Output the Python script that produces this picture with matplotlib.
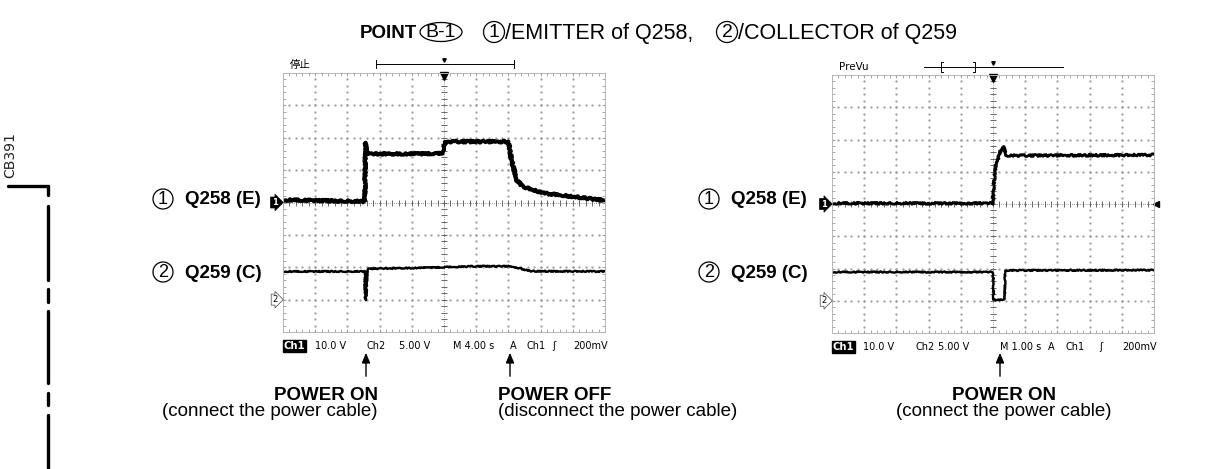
import matplotlib.pyplot as plt
from matplotlib.patches import Circle, Ellipse
import numpy as np

# Trace breakpoints in screen divisions (x: 0..10 div, y: -4..4 div)
# Left screen: M 4.00 s, power on then power off
L_CH1_T = [0, 2.54, 2.56, 2.60, 2.66, 4.95, 5.00, 5.05, 5.20, 7.00, 7.10, 7.26, 7.45, 8.07, 9.13, 10.0]
L_CH1_V = [0.08, 0.03, 1.85, 1.52, 1.50, 1.51, 1.75, 1.86, 1.88, 1.88, 1.31, 0.69, 0.49, 0.29, 0.17, 0.06]
L_CH2_T = [0, 2.54, 2.55, 2.58, 2.62, 5.00, 6.00, 7.00, 7.30, 7.70, 10.0]
L_CH2_V = [-2.13, -2.13, -3.0, -3.0, -2.05, -2.00, -1.97, -1.97, -2.02, -2.12, -2.13]

# Right screen: M 1.00 s, power on
R_CH1_T = [0, 5.00, 5.02, 5.06, 5.17, 5.27, 5.32, 5.40, 5.50, 10.0]
R_CH1_V = [0.02, 0.02, 0.60, 1.05, 1.46, 1.75, 1.80, 1.50, 1.50, 1.52]
R_CH2_T = [0, 5.00, 5.02, 5.36, 5.38, 10.0]
R_CH2_V = [-2.11, -2.11, -2.97, -2.97, -2.06, -2.05]

CH1_GND = 0
CH2_GND = -3

L_STATUS = [(1.0, "10.0 V"), (2.6, "Ch2"), (3.6, "5.00 V"), (5.28, "M 4.00 s"),
            (7.05, "A"), (7.55, "Ch1"), (8.35, "ʃ"), (9.0, "200mV")]
R_STATUS = [(0.96, "10.0 V"), (2.58, "Ch2"), (3.3, "5.00 V"), (5.22, "M 1.00 s"),
            (6.7, "A"), (7.24, "Ch1"), (8.3, "ʃ"), (9.0, "200mV")]

W, H = 1212, 469
SANS = "Liberation Sans"

fig = plt.figure(figsize=(W / 100, H / 100), dpi=100)
page = fig.add_axes([0, 0, 1, 1])
page.set_xlim(0, W)
page.set_ylim(H, 0)
page.axis("off")


def px_axes(x0, y0, x1, y1):
    return fig.add_axes([x0 / W, 1 - y1 / H, (x1 - x0) / W, (y1 - y0) / H])


def circled(x, y, s, r=10, size=13):
    page.add_patch(Circle((x, y), r, fill=False, ec="black", lw=0.9))
    page.text(x, y + 0.5, s, ha="center", va="center", fontsize=size, family=SANS)


def scope(ax, ch1, ch2, status, top_label, bar, inner=None, trig_right=False):
    ax.set_xlim(0, 10)
    ax.set_ylim(-4, 4)
    ax.set_xticks(range(11))
    ax.set_yticks(range(-4, 5))
    ax.set_xticks(np.arange(0, 10.01, 0.2), minor=True)
    ax.set_yticks(np.arange(-4, 4.01, 0.2), minor=True)
    ax.tick_params(which="both", direction="in", top=True, right=True, length=2.5,
                   width=0.6, color="#999999", labelbottom=False, labelleft=False)
    for sp in ax.spines.values():
        sp.set_color("#b5b5b5")
        sp.set_linewidth(0.7)
    ax.set_facecolor("none")

    # dotted graticule
    ys = np.arange(-4, 4.01, 0.2)
    xs = np.arange(0, 10.01, 0.2)
    for i in range(1, 10):
        if i != 5:
            ax.plot([i] * len(ys), ys, ls="none", marker=".", ms=1.2, color="#999999")
    for j in range(-3, 4):
        if j != 0:
            ax.plot(xs, [j] * len(xs), ls="none", marker=".", ms=1.2, color="#999999")
    # centre axes with fine ticks
    ax.plot([5, 5], [-4, 4], color="#777777", lw=0.6, ls=(0, (1, 1.5)))
    ax.plot([5] * len(ys), ys, ls="none", marker="_", ms=4, mew=0.7, color="#666666")
    ax.plot([0, 10], [0, 0], color="#777777", lw=0.6, ls=(0, (1, 1.5)))
    ax.plot(xs, [0] * len(xs), ls="none", marker="|", ms=4, mew=0.7, color="#666666")

    tr1, = ax.plot(ch1[0], ch1[1], color="black", lw=ch1[2], solid_capstyle="butt")
    tr1.set_sketch_params(scale=1.0, length=1.5, randomness=4)
    tr2, = ax.plot(ch2[0], ch2[1], color="black", lw=1.7, solid_capstyle="butt")
    tr2.set_sketch_params(scale=0.6, length=1.5, randomness=4)

    # trigger position marker
    ax.plot([5], [3.9], marker="v", ms=6, color="black", clip_on=False)

    # channel ground markers
    ax.annotate("1", xy=(0, CH1_GND), xytext=(-4, 0), textcoords="offset points",
                ha="right", va="center", color="white", fontsize=6, fontweight="bold",
                bbox=dict(boxstyle="rarrow,pad=0.12", fc="black", ec="black", lw=0.5),
                annotation_clip=False)
    ax.annotate("2", xy=(0, CH2_GND), xytext=(-4, 0), textcoords="offset points",
                ha="right", va="center", color="black", fontsize=6,
                bbox=dict(boxstyle="rarrow,pad=0.12", fc="white", ec="#444444", lw=0.5),
                annotation_clip=False)
    if trig_right:
        ax.plot([10.05], [CH1_GND], marker="<", ms=4, color="black", clip_on=False)

    # status line
    ax.text(0.02, -4.42, "Ch1", ha="left", va="center", fontsize=7.2, color="white",
            fontweight="bold", family="DejaVu Sans",
            bbox=dict(boxstyle="square,pad=0.1", fc="black", ec="black"), clip_on=False)
    for x, s in status:
        ax.text(x, -4.42, s, ha="left", va="center", fontsize=7, family="DejaVu Sans",
                clip_on=False)

    # record-length bar above the screen
    ax.text(0.22, 4.25, top_label[0], ha="left", va="center", fontsize=7.5,
            family=top_label[1], clip_on=False)
    x0, x1, yb = bar
    ax.plot([x0, x1], [yb, yb], color="black", lw=0.7, clip_on=False)
    if inner is None:
        for x in (x0, x1):
            ax.plot([x, x], [yb - 0.12, yb + 0.12], color="black", lw=0.7, clip_on=False)
    else:
        for x, d in zip(inner, (0.06, -0.06)):
            ax.plot([x + d, x, x, x + d], [yb - 0.15, yb - 0.15, yb + 0.15, yb + 0.15],
                    color="black", lw=0.7, clip_on=False)
    ax.plot([5], [yb + 0.13], marker="v", ms=2.5, color="black", clip_on=False)


left = px_axes(283, 73, 605, 332)
scope(left, (L_CH1_T, L_CH1_V, 2.8), (L_CH2_T, L_CH2_V), L_STATUS,
      ("停止", ["Noto Sans CJK JP", "DejaVu Sans"]), (2.89, 7.17, 4.27))

right = px_axes(832, 75, 1154, 333)
scope(right, (R_CH1_T, R_CH1_V, 2.0), (R_CH2_T, R_CH2_V), R_STATUS,
      ("PreVu", "DejaVu Sans"), (2.86, 7.17, 4.24), inner=(3.39, 4.44), trig_right=True)

# title line
page.text(360, 33, "POINT", ha="left", va="center", fontsize=13.5, fontweight="bold", family=SANS)
page.add_patch(Ellipse((441, 32), 42, 19, fill=False, ec="black", lw=0.9))
page.text(441, 32.5, "B-1", ha="center", va="center", fontsize=14, family=SANS)
circled(494, 32, "1", r=10.5, size=14)
page.text(505, 33, "/EMITTER of Q258,", ha="left", va="center", fontsize=15.5, family=SANS)
circled(727, 32, "2", r=10.5, size=14)
page.text(738, 33, "/COLLECTOR of Q259", ha="left", va="center", fontsize=15.5, family=SANS)

# channel names
for dx in (0, 546):
    circled(163 + dx, 199, "1")
    page.text(185 + dx, 200, "Q258 (E)", ha="left", va="center", fontsize=13.5,
              fontweight="bold", family=SANS)
    circled(163 + dx, 272, "2")
    page.text(185 + dx, 273, "Q259 (C)", ha="left", va="center", fontsize=13.5,
              fontweight="bold", family=SANS)

# event arrows and captions
arrow = dict(arrowstyle="-|>,head_length=0.6,head_width=0.25", color="black", lw=1.0)
for x in (366, 510, 1000):
    page.annotate("", xy=(x, 350), xytext=(x, 379), arrowprops=arrow)

page.text(378, 396, "POWER ON", ha="right", va="center", fontsize=13.5, fontweight="bold", family=SANS)
page.text(378, 411, "(connect the power cable)", ha="right", va="center", fontsize=13.5, family=SANS)
page.text(498, 396, "POWER OFF", ha="left", va="center", fontsize=13.5, fontweight="bold", family=SANS)
page.text(498, 411, "(disconnect the power cable)", ha="left", va="center", fontsize=13.5, family=SANS)
page.text(1004, 396, "POWER ON", ha="center", va="center", fontsize=13.5, fontweight="bold", family=SANS)
page.text(1004, 411, "(connect the power cable)", ha="center", va="center", fontsize=13.5, family=SANS)

# board reference and connector outline at the left edge
page.text(10, 155, "CB391", rotation=90, ha="center", va="center", fontsize=10,
          family="DejaVu Sans", color="#222222")
page.plot([8, 48], [186, 186], color="black", lw=2.4, solid_capstyle="round")
for y0, y1 in [(186, 195), (206, 280), (289, 302), (311, 383), (393, 405), (415, 470)]:
    page.plot([48, 48], [y0, y1], color="black", lw=2.4, solid_capstyle="round")

fig.savefig("out.png", dpi=100)
